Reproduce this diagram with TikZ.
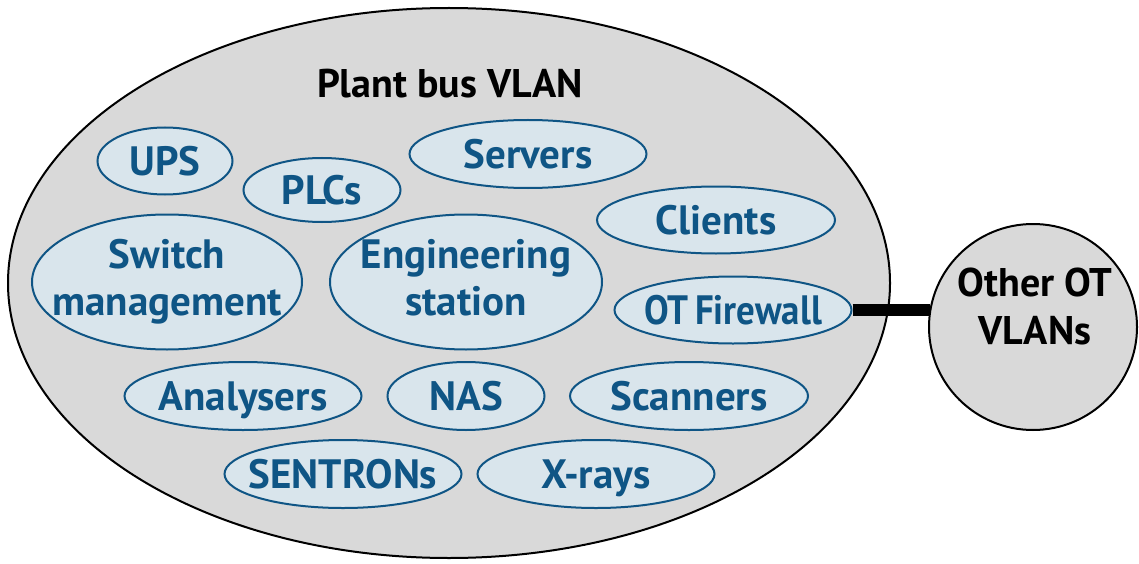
\documentclass[tikz,border=0pt]{standalone}
\usepackage{fontspec}
\setmainfont{PT Sans}
\newfontfamily\narrowsans[FakeStretch=0.9]{PT Sans}
\usetikzlibrary{shapes.geometric}
\definecolor{vlangray}{HTML}{D9D9D9}
\definecolor{devfill}{HTML}{D9E5EC}
\definecolor{devblue}{HTML}{0F5585}
\tikzset{
  device/.style={ellipse, draw=devblue, line width=2pt, fill=devfill, inner sep=0pt},
  devtext/.style={text=devblue, inner sep=0pt, align=center, text depth=0pt,
    font=\bfseries\fontsize{41}{47}\selectfont},
  zone/.style={ellipse, draw=black, line width=2pt, fill=vlangray, inner sep=0pt},
  zonelabel/.style={font=\bfseries\fontsize{40}{48}\selectfont, align=center, text=black},
  link/.style={line width=12pt, draw=black}
}
% a device ellipse of fixed size with its caption centred inside
% (#6: extra options for the caption)
\newcommand\devnode[6][]{%
  \node[device, minimum width=#4pt, minimum height=#5pt,
        label={[devtext,#1]center:{#6}}] (#2) at (#3) {};}
\begin{document}
\begin{tikzpicture}[x=1pt, y=-1pt]
  \useasboundingbox (0,0) rectangle (1139,564);
  % plant bus VLAN and the neighbouring VLANs
  \node[zone, minimum width=882pt, minimum height=550pt] (plant) at (449,283) {};
  \node[zone, minimum width=208pt, minimum height=206pt] (other) at (1033,327) {};
  \node[zonelabel, anchor=base] (plantlabel) at (450,98) {Plant bus VLAN};
  \node[zonelabel] (otherlabel) at (1035,306) {Other OT\\VLANs};
  % devices on the plant bus
  \devnode{ups}{165,161}{135}{67}{UPS}
  \devnode{plcs}{322,190}{157}{64}{PLCs}
  \devnode{servers}{528,154}{237}{68}{Servers}
  \devnode{clients}{716,220}{238}{67}{Clients}
  \devnode[yshift=5pt]{switch}{167,282}{270}{135}{Switch\\management}
  \devnode[yshift=5pt]{eng}{466,282}{272}{135}{Engineering\\station}
  \devnode{fw}{733,310}{237}{67}{\narrowsans OT\,Firewall}
  \devnode{analysers}{243,396}{237}{68}{Analysers}
  \devnode{nas}{466,396}{157}{68}{NAS}
  \devnode{scanners}{689,396}{238}{68}{Scanners}
  \devnode{sentrons}{343,474}{237}{68}{SENTRONs}
  \devnode{xrays}{596,474}{237}{68}{X-rays}
  % firewall uplink to the other VLANs
  \draw[link] (fw.east) -- ([xshift=2pt]fw.east -| other.west);
\end{tikzpicture}
\end{document}
